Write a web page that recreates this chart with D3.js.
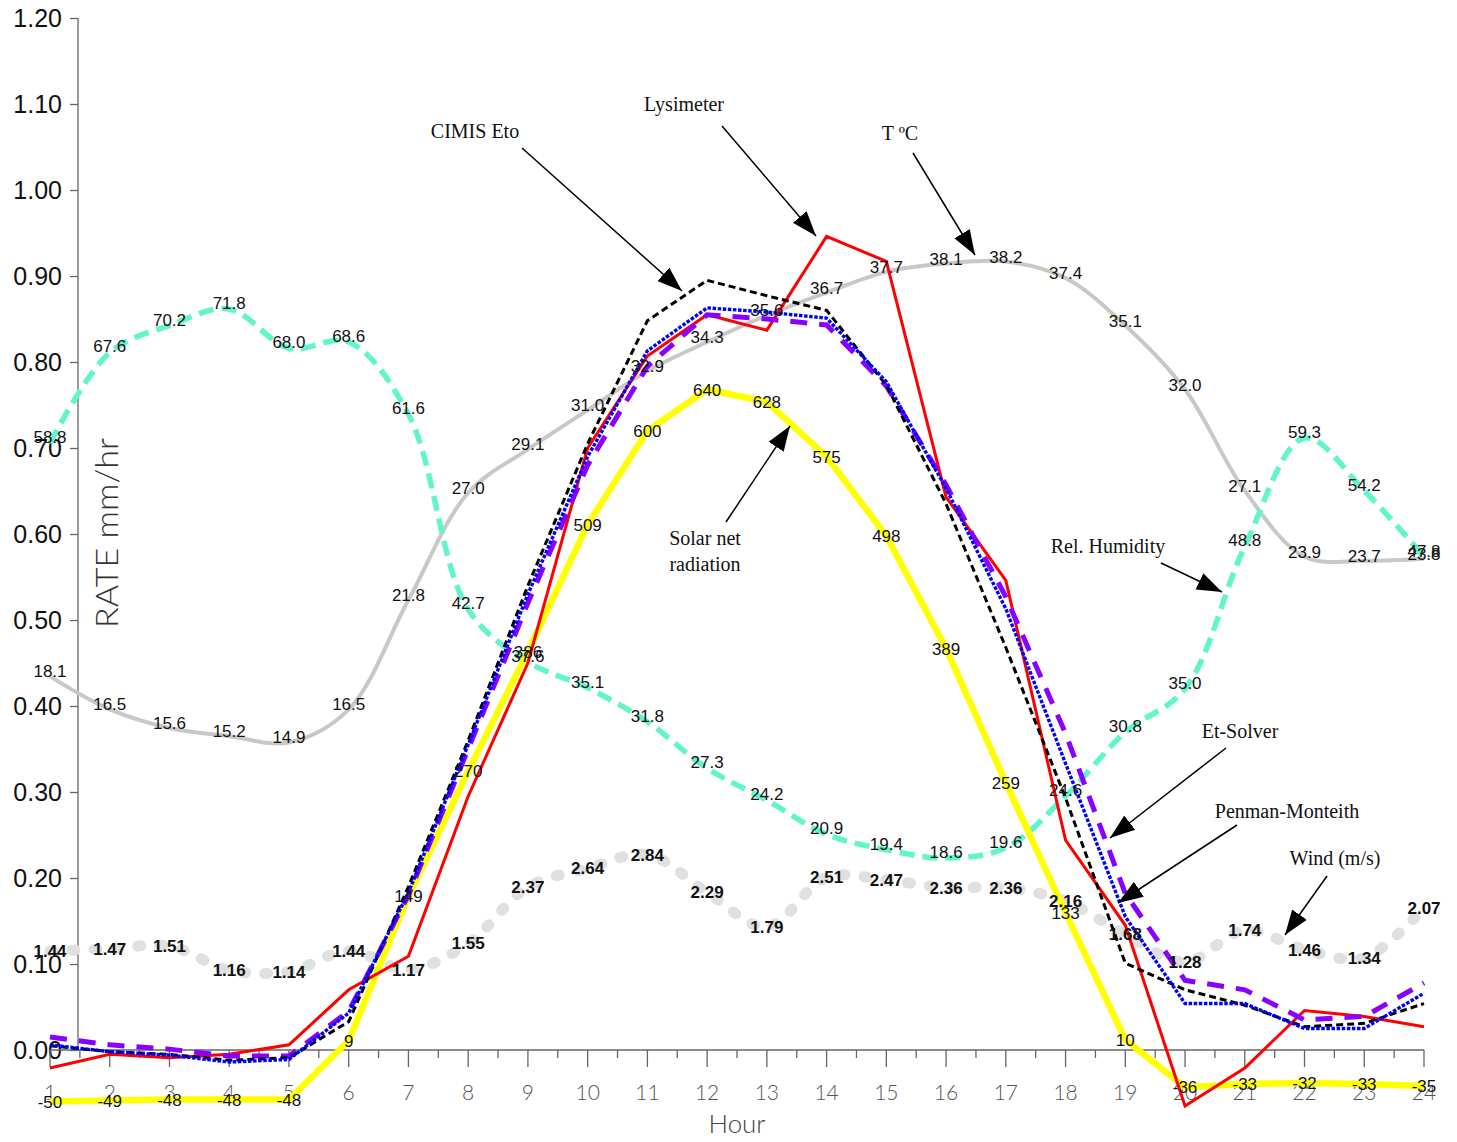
<!DOCTYPE html>
<html>
<head>
<meta charset="utf-8">
<script src="https://cdn.jsdelivr.net/npm/d3@7"></script>
<style>
  html, body { margin: 0; padding: 0; background: #fff; }
  svg { display: block; }
</style>
</head>
<body>
<div id="chart"></div>
<script>
// Hourly evapotranspiration rates and weather drivers
const hours = [1, 2, 3, 4, 5, 6, 7, 8, 9, 10, 11, 12, 13, 14, 15, 16, 17, 18, 19, 20, 21, 22, 23, 24];

// ET rates, mm/hr (primary axis)
const cimisEto = [0.005, -0.002, -0.005, -0.012, -0.009, 0.033, 0.19, 0.36, 0.54, 0.705, 0.848, 0.895, 0.877, 0.86, 0.773, 0.635, 0.468, 0.293, 0.101, 0.07, 0.052, 0.027, 0.031, 0.054];
const lysimeter = [-0.021, -0.005, -0.009, -0.005, 0.006, 0.07, 0.109, 0.295, 0.45, 0.70, 0.807, 0.855, 0.837, 0.946, 0.917, 0.643, 0.546, 0.244, 0.145, -0.065, -0.021, 0.046, 0.039, 0.027];
const etSolver = [0.006, -0.002, -0.006, -0.014, -0.011, 0.043, 0.183, 0.355, 0.53, 0.69, 0.813, 0.863, 0.858, 0.851, 0.777, 0.653, 0.513, 0.333, 0.155, 0.054, 0.054, 0.025, 0.025, 0.066];
const penmanMonteith = [0.015, 0.006, 0.001, -0.007, -0.007, 0.045, 0.18, 0.35, 0.52, 0.68, 0.795, 0.855, 0.85, 0.843, 0.772, 0.657, 0.527, 0.368, 0.182, 0.081, 0.07, 0.035, 0.039, 0.078];

// Weather drivers (each on its own hidden scale)
const temperature = [18.1, 16.5, 15.6, 15.2, 14.9, 16.5, 21.8, 27.0, 29.1, 31.0, 32.9, 34.3, 35.6, 36.7, 37.7, 38.1, 38.2, 37.4, 35.1, 32.0, 27.1, 23.9, 23.7, 23.8];
const relHumidity = [58.8, 67.6, 70.2, 71.8, 68.0, 68.6, 61.6, 42.7, 37.6, 35.1, 31.8, 27.3, 24.2, 20.9, 19.4, 18.6, 19.6, 24.6, 30.8, 35.0, 48.8, 59.3, 54.2, 47.8];
const solarNet = [-50, -49, -48, -48, -48, 9, 149, 270, 386, 509, 600, 640, 628, 575, 498, 389, 259, 133, 10, -36, -33, -32, -33, -35];
const windSpeed = [1.44, 1.47, 1.51, 1.16, 1.14, 1.44, 1.17, 1.55, 2.37, 2.64, 2.84, 2.29, 1.79, 2.51, 2.47, 2.36, 2.36, 2.16, 1.68, 1.28, 1.74, 1.46, 1.34, 2.07];

const rateTicks = [0, 0.1, 0.2, 0.3, 0.4, 0.5, 0.6, 0.7, 0.8, 0.9, 1.0, 1.1, 1.2];

const W = 1457, H = 1142;
const svg = d3.select("#chart").append("svg").attr("width", W).attr("height", H)
  .style("background", "#fff");

const yBottom = 1050, yTop = 18;
const x = d3.scaleLinear().domain([1, 24]).range([50, 1424]);
const y = d3.scaleLinear().domain([0, 1.2]).range([yBottom, yTop]);
const yT = d3.scaleLinear().domain([0, 50]).range([yBottom, yTop]);
const yRH = d3.scaleLinear().domain([0, 100]).range([yBottom, yTop]);
const ySolar = d3.scaleLinear().domain([0, 1000]).range([yBottom, yTop]);
const yWind = d3.scaleLinear().domain([0, 15]).range([yBottom, yTop]);

// number formats with a plain hyphen for negatives
const loc = d3.formatLocale({ decimal: ".", thousands: ",", grouping: [3], currency: ["", ""], minus: "-" });

const sans = "'Liberation Sans', Arial, sans-serif";
const serif = "'Liberation Serif', 'Times New Roman', serif";
const thin = "Lato, 'Open Sans', 'Liberation Sans', sans-serif";

// ---- Y axis ----
const yAxis = d3.axisLeft(y).tickValues(rateTicks).tickFormat(loc.format(".2f")).tickSize(8).tickPadding(8);
const gy = svg.append("g").attr("transform", "translate(78,0)").call(yAxis);
gy.select(".domain").attr("stroke", "#666").attr("stroke-width", 1.3).attr("d", `M0,${yTop}V${yBottom}`);
gy.selectAll(".tick line").attr("stroke", "#666").attr("stroke-width", 1.3);
gy.selectAll(".tick text").attr("font-family", sans).attr("font-size", 25).attr("fill", "#111");

// ---- X axis (hour ticks plus half-hour minor ticks) ----
const gx = svg.append("g");
gx.append("line").attr("x1", x(1)).attr("x2", x(24)).attr("y1", yBottom).attr("y2", yBottom)
  .attr("stroke", "#666").attr("stroke-width", 1.3);
const halfHours = d3.range(1, 24.01, 0.5);
gx.selectAll("line.tk").data(halfHours).join("line").attr("class", "tk")
  .attr("x1", d => x(d)).attr("x2", d => x(d))
  .attr("y1", yBottom).attr("y2", d => yBottom + (Number.isInteger(d) ? 17 : 8))
  .attr("stroke", "#666").attr("stroke-width", 1.3);
gx.selectAll("text").data(hours).join("text")
  .attr("x", d => x(d)).attr("y", 1100)
  .attr("text-anchor", "middle").attr("font-family", thin).attr("font-weight", 300)
  .attr("font-size", 21).attr("fill", "#555").text(d => d);

svg.append("text").attr("x", 737).attr("y", 1133).attr("text-anchor", "middle")
  .attr("font-family", thin).attr("font-weight", 300).attr("font-size", 26).attr("fill", "#444")
  .attr("textLength", 57).attr("lengthAdjust", "spacingAndGlyphs").text("Hour");

svg.append("text").attr("transform", "translate(118,533) rotate(-90)").attr("text-anchor", "middle")
  .attr("font-family", thin).attr("font-weight", 300).attr("font-size", 32).attr("fill", "#333")
  .attr("textLength", 190).attr("lengthAdjust", "spacingAndGlyphs").text("RATE mm/hr");

// ---- Series ----
const smooth = d3.curveCatmullRom.alpha(0.5);
function drawLine(values, scale, style, curve) {
  const gen = d3.line().x((d, i) => x(hours[i])).y(d => scale(d)).curve(curve || d3.curveLinear);
  const p = svg.append("path").datum(values).attr("d", gen).attr("fill", "none");
  Object.entries(style).forEach(([k, v]) => p.attr(k, v));
  return p;
}

// weather drivers underneath
drawLine(windSpeed, yWind, { stroke: "#e0e0e0", "stroke-width": 11, "stroke-linecap": "round", "stroke-dasharray": "3,19" }, smooth);
drawLine(temperature, yT, { stroke: "#c8c8c8", "stroke-width": 4 }, smooth);
drawLine(relHumidity, yRH, { stroke: "#62f5cc", "stroke-width": 5.5, "stroke-dasharray": "15,8" }, smooth);
drawLine(solarNet, ySolar, { stroke: "#ffff00", "stroke-width": 6.5, "stroke-linejoin": "round" });

// ET rates
drawLine(lysimeter, y, { stroke: "#ff0000", "stroke-width": 3 });
drawLine(penmanMonteith, y, { stroke: "#8a00ff", "stroke-width": 5, "stroke-dasharray": "17,12" });
drawLine(cimisEto, y, { stroke: "#000", "stroke-width": 3, "stroke-dasharray": "7,4" });
drawLine(etSolver, y, { stroke: "#0000ff", "stroke-width": 3.4, "stroke-dasharray": "3.5,1.6" });

// ---- Data labels ----
function labels(values, scale, fmt, dy, bold) {
  svg.append("g").selectAll("text").data(values).join("text")
    .attr("x", (d, i) => x(hours[i])).attr("y", d => scale(d) + dy)
    .attr("text-anchor", "middle").attr("font-family", sans).attr("font-size", 17)
    .attr("font-weight", bold ? "bold" : "normal").attr("fill", "#111")
    .text(d => fmt(d));
}
labels(temperature, yT, loc.format(".1f"), 1, false);
labels(relHumidity, yRH, loc.format(".1f"), 0, false);
labels(solarNet, ySolar, loc.format("d"), 6, false);
labels(windSpeed, yWind, loc.format(".2f"), 6, true);

// ---- Annotations with arrows ----
svg.append("defs").append("marker").attr("id", "head")
  .attr("markerUnits", "userSpaceOnUse").attr("markerWidth", 26).attr("markerHeight", 20)
  .attr("viewBox", "0 -10 26 20").attr("refX", 25).attr("refY", 0).attr("orient", "auto")
  .append("path").attr("d", "M0,-9L25,0L0,9Z").attr("fill", "#000");

const notes = [
  { lines: ["CIMIS Eto"], tx: 475, ty: 131, from: [522, 148], to: [682, 291] },
  { lines: ["Lysimeter"], tx: 684, ty: 104, from: [722, 126], to: [816, 236] },
  { lines: ["T ºC"], tx: 900, ty: 133, from: [913, 153], to: [975, 255] },
  { lines: ["Solar net", "radiation"], tx: 705, ty: 538, from: [726, 522], to: [790, 426] },
  { lines: ["Rel. Humidity"], tx: 1108, ty: 546, from: [1161, 563], to: [1222, 592] },
  { lines: ["Et-Solver"], tx: 1240, ty: 731, from: [1226, 748], to: [1110, 838] },
  { lines: ["Penman-Monteith"], tx: 1287, ty: 811, from: [1237, 825], to: [1118, 903] },
  { lines: ["Wind (m/s)"], tx: 1335, ty: 858, from: [1327, 876], to: [1285, 935] }
];
const gn = svg.append("g");
notes.forEach(n => {
  gn.append("line").attr("x1", n.from[0]).attr("y1", n.from[1]).attr("x2", n.to[0]).attr("y2", n.to[1])
    .attr("stroke", "#000").attr("stroke-width", 1.5).attr("marker-end", "url(#head)");
  n.lines.forEach((t, k) => {
    gn.append("text").attr("x", n.tx).attr("y", n.ty + k * 26 + 7).attr("text-anchor", "middle")
      .attr("font-family", serif).attr("font-size", 20).attr("fill", "#111").text(t);
  });
});
</script>
</body>
</html>
